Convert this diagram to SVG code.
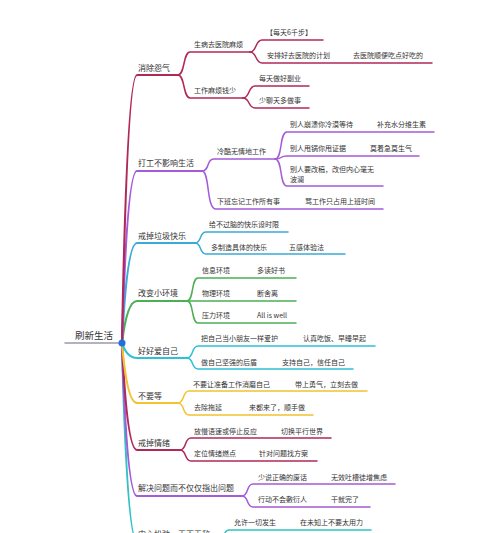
<svg xmlns="http://www.w3.org/2000/svg" width="500" height="533" viewBox="0 0 500 533">
<style>
text{font-family:"Noto Sans CJK SC","Noto Sans",sans-serif;fill:#333}
.b{font-size:8px}
.s{font-size:7px}
.r{font-size:9.5px}
path{fill:none;stroke-linecap:round;stroke-linejoin:round}
.t{stroke-width:2.2}
.k{stroke-width:1.5}
.c1{stroke:#b0285a}.c2{stroke:#a35bd8}.c3{stroke:#3aaad8}.c4{stroke:#4caf55}.c5{stroke:#2ec0d6}.c6{stroke:#f2c230}.c7{stroke:#b0285a}.c8{stroke:#a45bd6}.c9{stroke:#33c1c5}
</style>
<rect width="500" height="533" fill="#fff"/>
<g id="connectors">
<path d="M65,343 L122,343" stroke="#9b9bab" stroke-width="1.5" fill="none"/>
<path class="t c9" d="M122,343 Q127,541 137,541 L220,541"/>
<path class="t c8" d="M122,343 Q127,496 137,496 L242,496"/>
<path class="t c7" d="M122,343 Q127,450 137,450 L180,450"/>
<path class="t c6" d="M122,343 Q127,403 137,403 L178,403"/>
<path class="t c5" d="M122,343 Q127,358 137,358 L187,358"/>
<path class="t c4" d="M122,343 Q127,301 137,301 L187,301"/>
<path class="t c3" d="M122,343 Q127,243 137,243 L195,243"/>
<path class="t c2" d="M122,343 Q127,171 137,171 L202,171"/>
<path class="t c1" d="M122,343 Q127,75 137,75 L178,75"/>
<path class="k c1" d="M178,75 C185,75 183,52 190,52 L250,52"/>
<path class="k c1" d="M178,75 C185,75 183,98 190,98 L243,98"/>
<path class="k c1" d="M250,52 C257,52 255,40 262,40 L323,40"/>
<path class="k c1" d="M250,52 C257,52 255,63 262,63 L432,63"/>
<path class="k c1" d="M243,98 C250,98 248,86 255,86 L309,86"/>
<path class="k c1" d="M243,98 C250,98 248,108 255,108 L309,108"/>
<path class="k c2" d="M202,171 C210,171 206,159 214,159 L275,159"/>
<path class="k c2" d="M202,171 C210,171 206,209 216,209 L383,209"/>
<path class="k c2" d="M275,159 C283,159 279,132 287,132 L434,132"/>
<path class="k c2" d="M275,159 C283,159 279,156 287,156 L419,156"/>
<path class="k c2" d="M275,159 C283,159 279,186 287,186 L383,186"/>
<path class="k c3" d="M195,243 C202,243 199,232 206,232 L288,232"/>
<path class="k c3" d="M195,243 C202,243 199,254 206,254 L345,254"/>
<path class="k c4" d="M187,301 C194,301 191,278 198,278 L296,278"/>
<path class="k c4" d="M187,301 L296,301"/>
<path class="k c4" d="M187,301 C194,301 191,323 198,323 L296,323"/>
<path class="k c5" d="M187,358 C194,358 191,346 198,346 L375,346"/>
<path class="k c5" d="M187,358 C194,358 191,369 198,369 L353,369"/>
<path class="k c6" d="M178,403 C185,403 182,391 189,391 L367,391"/>
<path class="k c6" d="M178,403 C185,403 182,415 189,415 L313,415"/>
<path class="k c7" d="M180,450 C187,450 184,438 191,438 L331,438"/>
<path class="k c7" d="M180,450 C187,450 184,461 191,461 L317,461"/>
<path class="k c8" d="M242,496 C249,496 246,484 253,484 L395,484"/>
<path class="k c8" d="M242,496 C249,496 246,507 253,507 L370,507"/>
<path class="k c9" d="M220,541 C226,541 222,530 229,530 L371,530"/>
</g>
<g id="root"><circle cx="122" cy="343" r="3.5" fill="#1f6fe0"/><text class="r" x="75" y="339">刷新生活</text></g>
<g id="b1"><text class="b" x="138" y="71">消除怨气</text></g>
<g id="b1-1"><text class="s" x="194" y="47">生病去医院麻烦</text></g>
<g id="b1-1-1"><text class="s" x="266" y="35">【每天6千步】</text></g>
<g id="b1-1-2"><text class="s" x="267" y="58">安排好去医院的计划</text></g>
<g id="b1-1-2-1"><text class="s" x="353" y="58">去医院顺便吃点好吃的</text></g>
<g id="b1-2"><text class="s" x="194" y="93">工作麻烦钱少</text></g>
<g id="b1-2-1"><text class="s" x="259" y="81">每天做好副业</text></g>
<g id="b1-2-2"><text class="s" x="259" y="103">少聊天多做事</text></g>
<g id="b2"><text class="b" x="138" y="166">打工不影响生活</text></g>
<g id="b2-1"><text class="s" x="217" y="154">冷酷无情地工作</text></g>
<g id="b2-1-1"><text class="s" x="290" y="127">别人崩溃你冷漠等待</text></g>
<g id="b2-1-1-1"><text class="s" x="377" y="127">补充水分维生素</text></g>
<g id="b2-1-2"><text class="s" x="290" y="151">别人甩锅你甩证据</text></g>
<g id="b2-1-2-1"><text class="s" x="370" y="151">莫着急莫生气</text></g>
<g id="b2-1-3"><text class="s" x="290" y="172">别人要改稿，改但内心毫无</text><text class="s" x="290" y="182">波澜</text></g>
<g id="b2-2"><text class="s" x="217" y="204">下班忘记工作所有事</text></g>
<g id="b2-2-1"><text class="s" x="305" y="204">骂工作只占用上班时间</text></g>
<g id="b3"><text class="b" x="138" y="239">戒掉垃圾快乐</text></g>
<g id="b3-1"><text class="s" x="209" y="227">给不过脑的快乐设时限</text></g>
<g id="b3-2"><text class="s" x="211" y="250">多制造具体的快乐</text></g>
<g id="b3-2-1"><text class="s" x="289" y="250">五感体验法</text></g>
<g id="b4"><text class="b" x="138" y="296">改变小环境</text></g>
<g id="b4-1"><text class="s" x="202" y="273">信息环境</text></g>
<g id="b4-1-1"><text class="s" x="257" y="273">多读好书</text></g>
<g id="b4-2"><text class="s" x="202" y="296">物理环境</text></g>
<g id="b4-2-1"><text class="s" x="257" y="296">断舍离</text></g>
<g id="b4-3"><text class="s" x="202" y="318">压力环境</text></g>
<g id="b4-3-1"><text class="s" x="257" y="318">All is well</text></g>
<g id="b5"><text class="b" x="138" y="354">好好爱自己</text></g>
<g id="b5-1"><text class="s" x="201" y="341">把自己当小朋友一样爱护</text></g>
<g id="b5-1-1"><text class="s" x="303" y="341">认真吃饭、早睡早起</text></g>
<g id="b5-2"><text class="s" x="201" y="365">做自己坚强的后盾</text></g>
<g id="b5-2-1"><text class="s" x="282" y="365">支持自己，信任自己</text></g>
<g id="b6"><text class="b" x="138" y="399">不要等</text></g>
<g id="b6-1"><text class="s" x="193" y="387">不要让准备工作消磨自己</text></g>
<g id="b6-1-1"><text class="s" x="295" y="387">带上勇气，立刻去做</text></g>
<g id="b6-2"><text class="s" x="194" y="410">去除拖延</text></g>
<g id="b6-2-1"><text class="s" x="249" y="410">来都来了，顺手做</text></g>
<g id="b7"><text class="b" x="138" y="446">戒掉情绪</text></g>
<g id="b7-1"><text class="s" x="194" y="434">放慢语速或停止反应</text></g>
<g id="b7-1-1"><text class="s" x="281" y="434">切换平行世界</text></g>
<g id="b7-2"><text class="s" x="194" y="456">定位情绪燃点</text></g>
<g id="b7-2-1"><text class="s" x="259" y="456">针对问题找方案</text></g>
<g id="b8"><text class="b" x="138" y="491">解决问题而不仅仅指出问题</text></g>
<g id="b8-1"><text class="s" x="258" y="480">少说正确的废话</text></g>
<g id="b8-1-1"><text class="s" x="331" y="480">无效吐槽徒增焦虑</text></g>
<g id="b8-2"><text class="s" x="258" y="502">行动不会敷衍人</text></g>
<g id="b8-2-1"><text class="s" x="331" y="502">干就完了</text></g>
<g id="b9"><text class="b" x="138" y="537">内心松弛，天下无敌</text></g>
<g id="b9-1"><text class="s" x="234" y="525">允许一切发生</text></g>
<g id="b9-1-1"><text class="s" x="300" y="525">在未知上不要太用力</text></g>
</svg>
